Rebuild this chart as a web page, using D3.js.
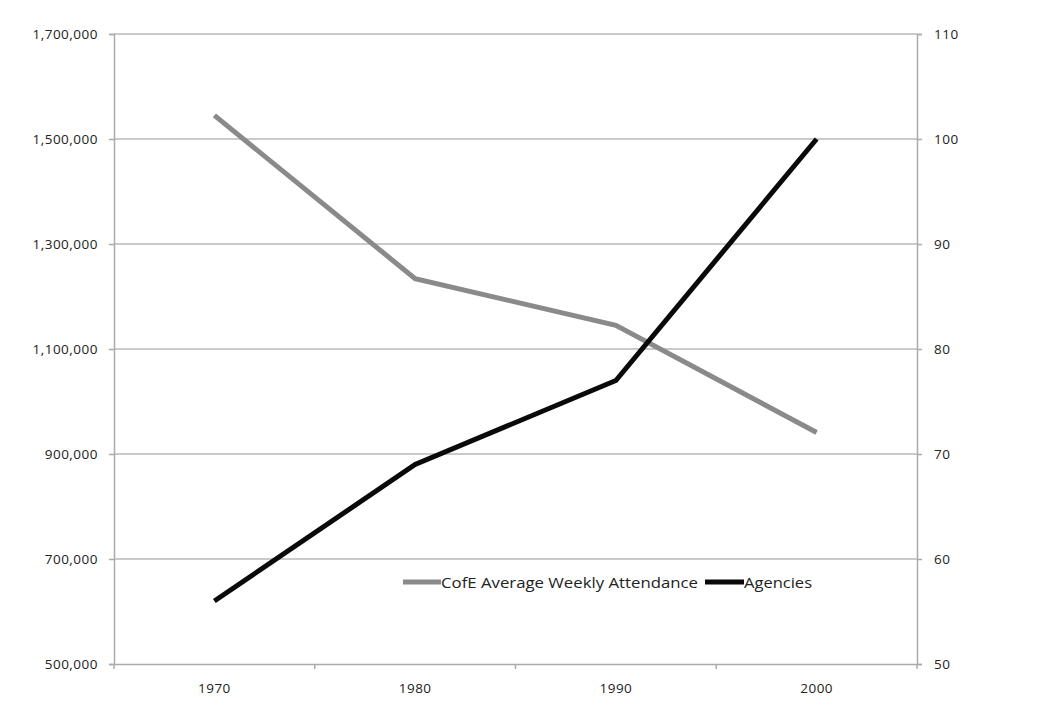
<!DOCTYPE html>
<html><head><meta charset="utf-8">
<script src="https://cdn.jsdelivr.net/npm/d3@7"></script>
<style>body{margin:0;background:#fff}svg{display:block}text{font-family:"Open Sans",Lato,sans-serif;fill:#222}</style>
</head><body><svg id="c" width="1045" height="724"></svg>
<script>
const years = ["1970","1980","1990","2000"];
const attendance = [1545000, 1234000, 1145000, 941000];
const agencies = [56, 69, 77, 100];
const leftTicks = [500000,700000,900000,1100000,1300000,1500000,1700000];
const rightTicks = [50,60,70,80,90,100,110];
const seriesNames = ["CofE Average Weekly Attendance","Agencies"];

const svg = d3.select("#c");
const L=114, R=917, T=34, B=664;
const x = d3.scaleBand().domain(years).range([L,R]);
const yL = d3.scaleLinear().domain([500000,1700000]).range([B,T]);
const yR = d3.scaleLinear().domain([50,110]).range([B,T]);

// gridlines
svg.append("g").selectAll("line").data(leftTicks.slice(1)).join("line")
  .attr("x1",L).attr("x2",R).attr("y1",d=>yL(d)).attr("y2",d=>yL(d))
  .attr("stroke","#b8b8b8").attr("stroke-width",1.5);

const fmt = d3.format(",");
const gl = svg.append("g").attr("transform",`translate(${L},0)`)
  .call(d3.axisLeft(yL).tickValues(leftTicks).tickFormat(fmt).tickSize(5).tickPadding(11));
const gr = svg.append("g").attr("transform",`translate(${R},0)`)
  .call(d3.axisRight(yR).tickValues(rightTicks).tickSize(5).tickPadding(12));
const gb = svg.append("g").attr("transform",`translate(0,${B})`)
  .call(d3.axisBottom(x).tickSize(0).tickPadding(19));
// category boundary ticks
const bounds = years.map(d=>x(d)).concat([R]);
svg.append("g").selectAll("line").data(bounds).join("line")
  .attr("x1",d=>d).attr("x2",d=>d).attr("y1",B).attr("y2",B+5)
  .attr("stroke","#aaa").attr("stroke-width",1.5);
[gl,gr,gb].forEach(g=>{
  g.selectAll(".domain").attr("stroke","#aaa").attr("stroke-width",1.5);
  g.selectAll(".tick line").attr("stroke","#aaa").attr("stroke-width",1.5);
  g.selectAll("text").attr("font-size",13.5).attr("fill","#2a2a2a")
    .style("font-family","'Open Sans', sans-serif").style("letter-spacing","0.5px");
});

const cx = d=>x(d)+x.bandwidth()/2;
svg.append("path").datum(attendance)
  .attr("d", d3.line().x((d,i)=>cx(years[i])).y(d=>yL(d)))
  .attr("fill","none").attr("stroke","#8a8a8a").attr("stroke-width",5);
svg.append("path").datum(agencies)
  .attr("d", d3.line().x((d,i)=>cx(years[i])).y(d=>yR(d)))
  .attr("fill","none").attr("stroke","#0a0a0a").attr("stroke-width",5);

// legend
const lg = svg.append("g");
lg.append("line").attr("x1",403).attr("x2",441).attr("y1",582).attr("y2",582).attr("stroke","#8a8a8a").attr("stroke-width",5);
lg.append("text").attr("x",441).attr("y",588).attr("font-size",15).attr("textLength",257).attr("lengthAdjust","spacingAndGlyphs").text(seriesNames[0]);
lg.append("line").attr("x1",705).attr("x2",744).attr("y1",582).attr("y2",582).attr("stroke","#0a0a0a").attr("stroke-width",5);
lg.append("text").attr("x",744).attr("y",588).attr("font-size",15).attr("textLength",68).attr("lengthAdjust","spacingAndGlyphs").text(seriesNames[1]);
</script></body></html>
